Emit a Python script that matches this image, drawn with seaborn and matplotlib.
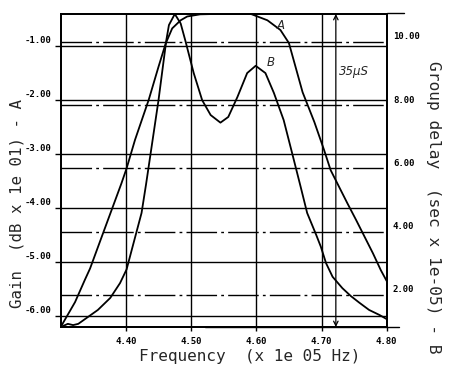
import matplotlib
matplotlib.use("Agg")
import matplotlib.pyplot as plt
import matplotlib.transforms as mtrans
import seaborn as sns

# ---------------- data ----------------
freq_a = [4.300, 4.322, 4.337, 4.345, 4.363, 4.378, 4.393, 4.401, 4.414, 4.435,
          4.450, 4.461, 4.471, 4.484, 4.494, 4.514, 4.550, 4.591, 4.617, 4.637,
          4.650, 4.671, 4.689, 4.704, 4.714, 4.727, 4.740, 4.753, 4.766, 4.779,
          4.791, 4.800]
gain_a = [-6.20, -5.74, -5.33, -5.12, -4.53, -4.04, -3.55, -3.27, -2.74, -2.00,
          -1.39, -0.96, -0.68, -0.53, -0.46, -0.42, -0.41, -0.41, -0.53, -0.71,
          -0.95, -1.86, -2.41, -2.93, -3.30, -3.61, -3.92, -4.22, -4.53, -4.84,
          -5.15, -5.35]

freq_b = [4.300, 4.311, 4.319, 4.327, 4.342, 4.357, 4.376, 4.391, 4.401, 4.411,
          4.424, 4.431, 4.450, 4.458, 4.462, 4.466, 4.475, 4.484, 4.491, 4.504,
          4.517, 4.530, 4.545, 4.557, 4.571, 4.586, 4.599, 4.614, 4.627, 4.642,
          4.655, 4.668, 4.678, 4.692, 4.699, 4.707, 4.717, 4.732, 4.745, 4.758,
          4.773, 4.789, 4.800]
delay_b = [0.98, 1.08, 1.04, 1.08, 1.30, 1.52, 1.90, 2.37, 2.80, 3.58,
           4.59, 5.51, 8.16, 9.43, 10.06, 10.54, 10.89, 10.59, 10.06, 9.02,
           8.16, 7.69, 7.45, 7.63, 8.26, 9.02, 9.25, 9.02, 8.39, 7.53,
           6.48, 5.42, 4.59, 3.89, 3.52, 3.00, 2.57, 2.21, 1.96, 1.75,
           1.52, 1.36, 1.23]

x_ticks = [4.40, 4.50, 4.60, 4.70, 4.80]
x_tick_labels = ["4.40", "4.50", "4.60", "4.70", "4.80"]
gain_ticks = [-1.0, -2.0, -3.0, -4.0, -5.0, -6.0]
gain_tick_labels = ["-1.00", "-2.00", "-3.00", "-4.00", "-5.00", "-6.00"]
delay_ticks = [2.0, 4.0, 6.0, 8.0, 10.0]
delay_tick_labels = ["2.00", "4.00", "6.00", "8.00", "10.00"]

x_label = "Frequency  (x 1e 05 Hz)"
left_label = "Gain  (dB x 1e 01) - A"
right_label = "Group delay  (sec x 1e-05) - B"
span_note = "35\u03bcS"

# ---------------- style ----------------
sns.set_style("white")
plt.rcParams["font.family"] = ["DejaVu Sans Mono", "DejaVu Sans"]

W, H = 450, 368
fig = plt.figure(figsize=(W / 100, H / 100), dpi=100)
ax = fig.add_axes([60.7 / W, 41 / H, 326 / W, 313 / H])

sns.lineplot(x=freq_a, y=gain_a, ax=ax, color="black", lw=1.3,
             estimator=None, sort=False)
ax2 = ax.twinx()
sns.lineplot(x=freq_b, y=delay_b, ax=ax2, color="black", lw=1.3,
             estimator=None, sort=False)

ax.set_xlim(4.30, 4.80)
ax.set_ylim(-6.2, -0.414)
ax2.set_ylim(0.98, 10.89)

ax.set_xticks(x_ticks)
ax.set_xticklabels(x_tick_labels)
ax.set_yticks(gain_ticks)
ax.set_yticklabels(gain_tick_labels)
ax2.set_yticks(delay_ticks)
ax2.set_yticklabels(delay_tick_labels)
ax.set_xlabel("")
ax.set_ylabel("")
ax2.set_ylabel("")

# grids: solid for gain / frequency, dash-dot for delay
ax.grid(True, axis="both", color="black", lw=1.0, linestyle="-")
ax2.grid(True, axis="y", color="black", lw=1.0, linestyle=(0, (22, 3, 2, 3)))
ax2.grid(False, axis="x")

for a in (ax, ax2):
    for s in a.spines.values():
        s.set_color("black")
        s.set_linewidth(1.3)
        s.set_visible(True)

ax.tick_params(axis="y", direction="out", length=4, width=1, colors="black",
               labelsize=6.5, pad=2.5, left=True)
ax.tick_params(axis="x", direction="out", length=3, width=1, colors="black",
               labelsize=6.5, pad=4.5, bottom=True)
ax2.tick_params(axis="y", direction="out", length=0, colors="black",
                labelsize=6.5, pad=4.5, right=True)

# tick labels sit slightly above their grid lines in the original
up = mtrans.ScaledTranslation(0, 4.5 / 72, fig.dpi_scale_trans)
for t in ax.yaxis.get_major_ticks():
    t.label1.set_fontweight("bold")
    t.label1.set_transform(t.label1.get_transform() + up)
for t in ax2.yaxis.get_major_ticks():
    t.label2.set_fontweight("bold")
    t.label2.set_transform(t.label2.get_transform() + up)
for t in ax.xaxis.get_major_ticks():
    t.label1.set_fontweight("bold")

# axis titles
fig.text(250 / W, 1 - 356 / H, x_label, ha="center", va="center", fontsize=11.5)
fig.text(17 / W, 1 - 204 / H, left_label, ha="center", va="center",
         rotation=90, fontsize=11.3)
fig.text(433 / W, 1 - 207 / H, right_label, ha="center", va="center",
         rotation=-90, fontsize=11.7)

# hand-drawn annotation: span between delay peak and the B dip
dip = min(delay_b)
top = ax2.get_ylim()[1]
ax2.plot([4.522, 4.819], [dip, dip], color="black", lw=1.0, clip_on=False)
ax2.plot([4.80, 4.826], [top + 0.03, top + 0.03], color="black", lw=1.0,
         clip_on=False)
ax2.annotate("", xy=(4.722, top), xytext=(4.722, dip),
             arrowprops=dict(arrowstyle="<->", lw=0.9, color="black",
                             shrinkA=0, shrinkB=0, mutation_scale=8))
ax2.text(4.727, 9.08, span_note, fontsize=8.5, style="italic",
         family=["DejaVu Sans"], ha="left", va="center")
ax2.text(4.637, 10.54, "A", fontsize=8.5, style="italic",
         family=["DejaVu Sans"], ha="center", va="center")
ax2.text(4.622, 9.34, "B", fontsize=8.5, style="italic",
         family=["DejaVu Sans"], ha="center", va="center")

fig.savefig("out.png", dpi=100, facecolor="white")
